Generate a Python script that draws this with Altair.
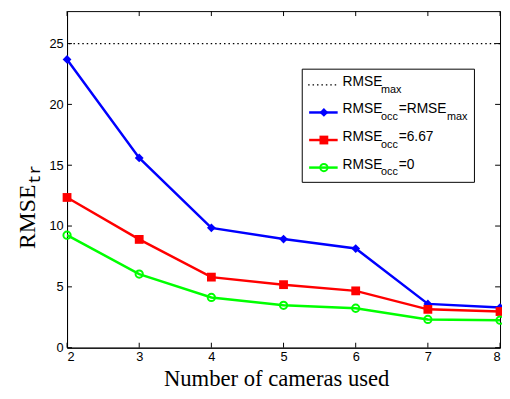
import altair as alt
import pandas as pd

# ---- data ----
cameras = [2, 3, 4, 5, 6, 7, 8]
rmse_occ_max = [23.7, 15.6, 9.85, 8.93, 8.15, 3.6, 3.3]
rmse_occ_667 = [12.35, 8.9, 5.8, 5.18, 4.67, 3.15, 2.97]
rmse_occ_0 = [9.25, 6.05, 4.13, 3.48, 3.24, 2.32, 2.26]
rmse_max = [25]
x_ticks = [2, 3, 4, 5, 6, 7, 8]
y_ticks = [0, 5, 10, 15, 20, 25]
series_names = ["occ=max", "occ=6.67", "occ=0"]
series_colors = ["#0000ff", "#ff0000", "#00ff00"]
series_shapes = ["diamond", "square", "circle"]

W, H = 440, 342
X_DOMAIN = [2, 8]
Y_DOMAIN = [0, 27.67]

rows = []
for name, vals in zip(series_names, [rmse_occ_max, rmse_occ_667, rmse_occ_0]):
    for c, v in zip(cameras, vals):
        rows.append({"cameras": c, "value": v, "series": name})
df = pd.DataFrame(rows)

xscale = alt.Scale(domain=X_DOMAIN, nice=False, zero=False)
yscale = alt.Scale(domain=Y_DOMAIN, nice=False, zero=True)
x_axis = alt.Axis(values=x_ticks, title=None, grid=False, ticks=False,
                  labelPadding=3, format="d")
y_axis = alt.Axis(values=y_ticks, title=None, grid=False, ticks=False,
                  labelPadding=4, format="d")
color_scale = alt.Scale(domain=series_names, range=series_colors)
shape_scale = alt.Scale(domain=series_names, range=series_shapes)


def xe(field):
    return alt.X(field, scale=xscale, axis=x_axis)


def ye(field):
    return alt.Y(field, scale=yscale, axis=y_axis)


base = alt.Chart(df).encode(
    x=xe("cameras:Q"), y=ye("value:Q"),
    color=alt.Color("series:N", scale=color_scale, legend=None),
)
lines = base.mark_line(strokeWidth=2.5)
pts_filled = base.transform_filter(alt.datum.series != "occ=0").mark_point(
    filled=True, size=80, opacity=1
).encode(shape=alt.Shape("series:N", scale=shape_scale, legend=None))
pts_hollow = base.transform_filter(alt.datum.series == "occ=0").mark_point(
    filled=False, size=55, strokeWidth=2, opacity=1
).encode(shape=alt.Shape("series:N", scale=shape_scale, legend=None))

max_line = alt.Chart(pd.DataFrame({"v": rmse_max})).mark_rule(
    color="black", strokeWidth=1.2, strokeDash=[1.5, 3]
).encode(y=ye("v:Q"))

# inner ticks (MATLAB style)
xt = pd.DataFrame({"t": x_ticks})
yt = pd.DataFrame({"t": y_ticks})
tick_b = alt.Chart(xt).mark_rule(color="black").encode(
    x=xe("t:Q"), y=alt.value(H), y2=alt.value(H - 5))
tick_t = alt.Chart(xt).mark_rule(color="black").encode(
    x=xe("t:Q"), y=alt.value(0), y2=alt.value(5))
tick_l = alt.Chart(yt).mark_rule(color="black").encode(
    y=ye("t:Q"), x=alt.value(0), x2=alt.value(5))
tick_r = alt.Chart(yt).mark_rule(color="black").encode(
    y=ye("t:Q"), x=alt.value(W - 5), x2=alt.value(W))

# axis titles
x_title = alt.Chart(pd.DataFrame({"t": ["Number of cameras used"]})).mark_text(
    font="Liberation Serif", fontSize=23, align="center", baseline="alphabetic",
    color="black"
).encode(x=alt.value(213), y=alt.value(381), text="t:N")
y_title = alt.Chart(pd.DataFrame({"t": ["RMSE"]})).mark_text(
    font="Liberation Serif", fontSize=24, align="center", baseline="alphabetic",
    angle=270, color="black"
).encode(x=alt.value(-33), y=alt.value(209), text="t:N")
y_title_sub = alt.Chart(pd.DataFrame({"t": ["tr"]})).mark_text(
    font="Liberation Mono", fontSize=16, align="center", baseline="alphabetic",
    angle=270, color="black"
).encode(x=alt.value(-27), y=alt.value(166), text="t:N")

# legend (drawn by hand for the subscripts)
LB = {"x": 239, "x2": 414, "y": 59, "y2": 174}
entry_y = [75, 103, 131, 159]
leg_box = alt.Chart(pd.DataFrame({"a": [0]})).mark_rect(
    fill="white", stroke="black", strokeWidth=1
).encode(x=alt.value(LB["x"]), x2=alt.value(LB["x2"]),
         y=alt.value(LB["y"]), y2=alt.value(LB["y2"]))

leg_dotted = alt.Chart(pd.DataFrame({"a": [0]})).mark_rule(
    color="black", strokeWidth=1.2, strokeDash=[1.5, 3]
).encode(x=alt.value(245), x2=alt.value(274), y=alt.value(entry_y[0]))

leg_series = pd.DataFrame({"series": series_names, "py": entry_y[1:]})
leg_lines = alt.Chart(leg_series).mark_rule(strokeWidth=2.5).encode(
    x=alt.value(246), x2=alt.value(275),
    y=alt.Y("py:Q", scale=None, axis=None),
    color=alt.Color("series:N", scale=color_scale, legend=None))
leg_pts_f = alt.Chart(leg_series).transform_filter(
    alt.datum.series != "occ=0").mark_point(filled=True, size=80, opacity=1).encode(
    x=alt.value(261), y=alt.Y("py:Q", scale=None, axis=None),
    color=alt.Color("series:N", scale=color_scale, legend=None),
    shape=alt.Shape("series:N", scale=shape_scale, legend=None))
leg_pts_h = alt.Chart(leg_series).transform_filter(
    alt.datum.series == "occ=0").mark_point(filled=False, size=55, strokeWidth=2,
                                             opacity=1).encode(
    x=alt.value(261), y=alt.Y("py:Q", scale=None, axis=None),
    color=alt.Color("series:N", scale=color_scale, legend=None),
    shape=alt.Shape("series:N", scale=shape_scale, legend=None))

main_txt = pd.DataFrame({
    "t": ["RMSE", "RMSE", "=RMSE", "RMSE", "=6.67", "RMSE", "=0"],
    "px": [280, 280, 337, 280, 337, 280, 337],
    "py": [entry_y[0], entry_y[1], entry_y[1], entry_y[2], entry_y[2],
           entry_y[3], entry_y[3]],
})
sub_txt = pd.DataFrame({
    "t": ["max", "occ", "max", "occ", "occ"],
    "px": [319, 319, 386, 319, 319],
    "py": [entry_y[0], entry_y[1], entry_y[1], entry_y[2], entry_y[3]],
})
leg_main = alt.Chart(main_txt).mark_text(
    font="Liberation Sans", fontSize=14, align="left", baseline="middle",
    dy=-3, color="black"
).encode(x=alt.X("px:Q", scale=None, axis=None),
         y=alt.Y("py:Q", scale=None, axis=None), text="t:N")
leg_sub = alt.Chart(sub_txt).mark_text(
    font="Liberation Sans", fontSize=11, align="left", baseline="middle",
    dy=5, color="black"
).encode(x=alt.X("px:Q", scale=None, axis=None),
         y=alt.Y("py:Q", scale=None, axis=None), text="t:N")

chart = alt.layer(
    max_line, lines, pts_filled, pts_hollow,
    tick_b, tick_t, tick_l, tick_r,
    leg_box, leg_dotted, leg_lines, leg_pts_f, leg_pts_h, leg_main, leg_sub,
    x_title, y_title, y_title_sub,
).properties(
    width=W, height=H,
    autosize=alt.AutoSizeParams(type="none"),
    padding={"left": 60, "top": 0, "right": 2, "bottom": 49},
).configure_view(
    stroke="black", strokeWidth=1
).configure_axis(
    domainColor="black", domainWidth=1, labelColor="black",
    labelFont="Liberation Sans", labelFontSize=13,
)

chart.save("out.html", embed_options={"renderer": "svg", "actions": False})
